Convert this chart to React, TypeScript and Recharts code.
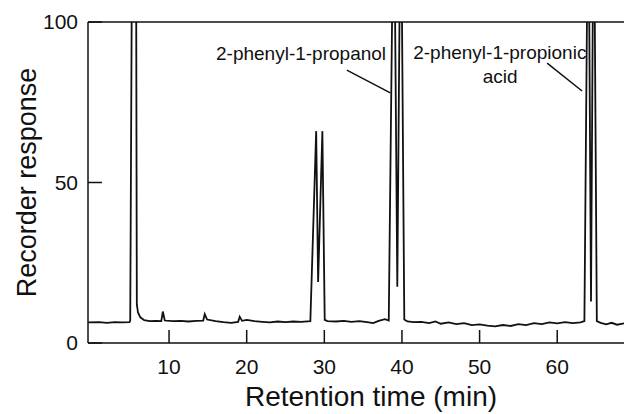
import React from "react";
import { LineChart, Line, XAxis, YAxis, ReferenceLine, ReferenceDot } from "recharts";

// retention time (min) and recorder response
const times = [-0.4, 1, 2, 3, 4, 4.9, 5.0, 5.3, 5.72, 5.85, 6.0, 6.3, 6.8, 7.5, 8.3, 9.0, 9.2, 9.45, 10.5, 11.5, 12.5, 13.5, 14.4, 14.6, 14.9, 16, 17, 18, 18.9, 19.1, 19.4, 20, 21, 22, 23, 24, 25, 26, 27, 28.2, 28.95, 29.2, 29.75, 30.05, 30.4, 31.5, 32.5, 33.5, 34.5, 35.5, 36.3, 37, 37.8, 38.3, 38.95, 39.4, 39.85, 40.3, 40.7, 41.5, 42.5, 43.5, 44.3, 45, 46, 47, 48, 49, 50, 51, 52, 53, 54, 55, 56, 57, 58, 59, 60, 61, 62, 63, 63.5, 64.0, 64.35, 64.7, 65.1, 65.6, 66.3, 67, 67.7, 68.6];
const response = [6.4, 6.5, 6.3, 6.5, 6.4, 6.5, 7, 160, 160, 12, 9.5, 8.0, 7.1, 6.8, 6.9, 6.8, 9.8, 7.0, 6.8, 6.9, 6.7, 6.9, 7.0, 9.0, 7.3, 6.8, 6.5, 6.3, 6.6, 8.2, 6.9, 7.2, 6.8, 6.6, 6.4, 6.7, 6.5, 6.7, 6.6, 6.8, 66, 19, 66, 7.2, 6.8, 6.7, 6.9, 6.6, 6.8, 6.5, 6.2, 6.9, 7.4, 7.0, 150, 17.5, 150, 7.3, 6.7, 6.5, 6.6, 6.2, 6.7, 6.0, 6.4, 5.9, 6.2, 5.6, 5.8, 5.4, 5.2, 5.6, 5.3, 5.9, 5.6, 6.2, 5.9, 6.4, 6.1, 6.5, 6.2, 6.4, 6.8, 150, 12.9, 150, 6.8, 6.3, 5.8, 6.3, 5.7, 6.1];

const xTicks = [10, 20, 30, 40, 50, 60];
const yTicks = [0, 50, 100];

// annotation anchors in data units
const labels = [
  { t: 27.0, r: 90.3, text: "2-phenyl-1-propanol" },
  { t: 52.6, r: 90.7, text: "2-phenyl-1-propionic" },
  { t: 52.65, r: 83.2, text: "acid" },
];
const leaders = [
  [{ x: 32.9, y: 85.0 }, { x: 38.5, y: 77.9 }],
  [{ x: 58.7, y: 87.2 }, { x: 63.2, y: 78.5 }],
];

const data = times.map((t, i) => ({ t, r: response[i] }));
const font = "'Liberation Sans', Arial, Helvetica, sans-serif";
const ink = "#111";

const YTitle = ({ viewBox }: any) => (
  <text x={27} y={viewBox.y + viewBox.height / 2} transform={`rotate(-90 27 ${viewBox.y + viewBox.height / 2})`}
    textAnchor="middle" dominantBaseline="central" fontSize={27} fontFamily={font} fill={ink}>Recorder response</text>
);
const XTitle = ({ viewBox }: any) => (
  <text x={viewBox.x + viewBox.width / 2 + 15} y={viewBox.y + 63} textAnchor="middle" fontSize={28} fontFamily={font} fill={ink}>
    Retention time (min)
  </text>
);

export default function App() {
  return (
    <div style={{ width: 624, height: 414, background: "#fff" }}>
      <style>{"body{margin:0}"}</style>
      <LineChart width={624} height={414} data={data} margin={{ top: 22, right: 0, left: 0, bottom: 0 }}>
        <XAxis dataKey="t" type="number" domain={[-0.44, 68.6]} ticks={xTicks} interval={0} allowDataOverflow
          height={71} tickSize={-13} tickMargin={29} stroke={ink} strokeWidth={1.5}
          tick={{ fontSize: 21, fontFamily: font, fill: ink }} label={<XTitle />} />
        <YAxis type="number" domain={[0, 100]} ticks={yTicks} allowDataOverflow width={88}
          tickSize={-14} tickMargin={24} stroke={ink} strokeWidth={1.5}
          tick={{ fontSize: 21, fontFamily: font, fill: ink }} label={<YTitle />} />
        <ReferenceLine y={100} stroke={ink} strokeWidth={1.5} />
        {leaders.map((s, i) => (
          <ReferenceLine key={i} segment={s} stroke={ink} strokeWidth={1.5} ifOverflow="visible" />
        ))}
        {labels.map((l, i) => (
          <ReferenceDot key={i} x={l.t} y={l.r} r={0} stroke="none" fill="none"
            label={{ value: l.text, position: "center", fontSize: 19, fontFamily: font, fill: ink }} />
        ))}
        <Line type="linear" dataKey="r" stroke={ink} strokeWidth={1.8} dot={false} isAnimationActive={false} />
      </LineChart>
    </div>
  );
}
